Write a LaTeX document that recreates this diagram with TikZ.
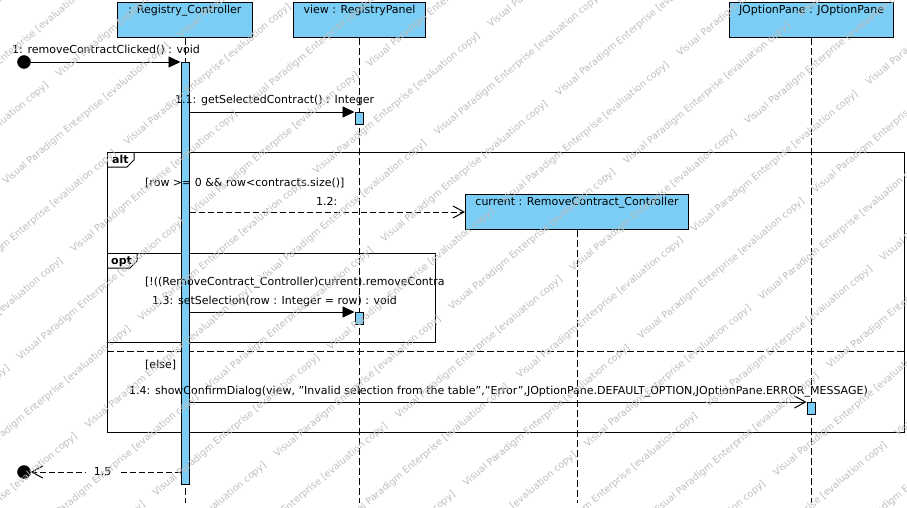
\documentclass[tikz,border=0pt]{standalone}
\usepackage{fontspec}
\setmainfont{DejaVu Sans}
\usetikzlibrary{arrows.meta}

\definecolor{objfill}{RGB}{122,206,245}
\definecolor{wmgray}{RGB}{190,190,190}

\tikzset{
  obj/.style={draw=black, fill=objfill, line width=1pt, inner sep=0pt},
  bar/.style={obj, minimum width=8pt},
  objname/.style={font=\fontsize{11}{13}\selectfont, inner sep=0pt, anchor=north, yshift=-3pt},
  lifeline/.style={line width=0.9pt, dash pattern=on 7pt off 3pt},
  callmsg/.style={line width=0.9pt, -{Triangle[length=12pt,width=11pt]}},
  sendmsg/.style={line width=0.9pt, -{Straight Barb[length=11pt,width=12pt,line width=1pt]}},
  replymsg/.style={sendmsg, dash pattern=on 6pt off 3pt},
  msglbl/.style={font=\fontsize{11}{13}\selectfont, inner sep=0pt, anchor=base west},
  framebox/.style={draw=black, line width=1pt, inner sep=0pt, anchor=north west},
  framelbl/.style={font=\bfseries\fontsize{11}{13}\selectfont, inner sep=0pt, anchor=base west},
  endpoint/.style={circle, fill=black, draw=black, minimum size=13pt, inner sep=0pt},
  wm/.style={font=\fontsize{9.5}{10}\selectfont, text=wmgray, inner sep=0pt, anchor=base west, rotate=40},
}

\begin{document}
\begin{tikzpicture}[x=1pt,y=-1pt]
\fill[white] (0,0) rectangle (907,508);
\useasboundingbox (0,0) rectangle (907,508);

% combined fragments
\node[framebox, minimum width=797pt, minimum height=280pt] (altf) at (107,152) {};
\draw[line width=1pt] (107,167) -- (127,167) -- (134,160) -- (134,152);
\node[framelbl] (altl) at (112,163) {alt};
\draw[line width=0.9pt, dash pattern=on 7pt off 3pt] (107,351) -- (904,351);

\node[framebox, minimum width=328pt, minimum height=89pt] (optf) at (107,253) {};
\draw[line width=1pt] (107,268) -- (130,268) -- (137,261) -- (137,253);
\node[framelbl] (optl) at (111,264) {opt};

% lifeline heads
\node[obj, anchor=north west, minimum width=135pt, minimum height=35pt,
      label={[objname]north:{: Registry\_Controller}}] (rc) at (117,2) {};
\node[obj, anchor=north west, minimum width=132pt, minimum height=35pt,
      label={[objname]north:{view : RegistryPanel}}] (view) at (293,2) {};
\node[obj, anchor=north west, minimum width=164pt, minimum height=35pt,
      label={[objname]north:{JOptionPane : JOptionPane}}] (jop) at (729,2) {};
\node[obj, anchor=north west, minimum width=223pt, minimum height=35pt,
      label={[objname]north:{current : RemoveContract\_Controller}}] (cur) at (465,194) {};

% lifelines
\coordinate (rcend) at (185,503);
\coordinate (viewend) at (359,503);
\coordinate (jopend) at (811,503);
\coordinate (curend) at (577,503);
\draw[lifeline] (rc.south -| rcend) -- (rcend);
\draw[lifeline] (view.south -| viewend) -- (viewend);
\draw[lifeline] (jop.south -| jopend) -- (jopend);
\draw[lifeline] (cur.south -| curend) -- (curend);

% activations
\node[bar, minimum height=422pt, anchor=north] (rcact) at (185,62) {};
\node[bar, minimum height=12pt, anchor=north] (vact1) at (359,112) {};
\node[bar, minimum height=12pt, anchor=north] (vact2) at (359,312) {};
\node[bar, minimum height=12pt, anchor=north] (jact) at (811,402) {};

% found / lost message ends
\node[endpoint] (start) at (24,62) {};
\node[endpoint] (finish) at (24,472) {};

% messages
\draw[callmsg] (start) -- (rcact.north west);
\node[msglbl] (m1) at (12,54) {1: removeContractClicked() : void};

\draw[callmsg] (rcact.east |- vact1.north) -- (vact1.north west);
\node[msglbl] (m11) at (175,104) {1.1: getSelectedContract() : Integer};

\node[msglbl] (g1) at (145,186) {[row >= 0 \&\& row<contracts.size()]};
\draw[replymsg] (rcact.east |- cur.west) -- (cur.west);
\node[msglbl] (m12) at (316,205) {1.2:};

\node[msglbl] (g2) at (145,285) {[!((RemoveContract\_Controller)current).removeContra};
\draw[callmsg] (rcact.east |- vact2.north) -- (vact2.north west);
\node[msglbl] (m13) at (152,304) {1.3: setSelection(row : Integer = row) : void};

\node[msglbl] (g3) at (145,368) {[else]};
\draw[sendmsg] (rcact.east |- jact.north) -- (jact.north west);
\node[msglbl] (m14) at (129,394) {1.4: showConfirmDialog(view, "Invalid selection from the table","Error",JOptionPane.DEFAULT\_OPTION,JOptionPane.ERROR\_MESSAGE)};

\draw[replymsg] (rcact.west |- finish) -- (finish)
  node[pos=0.52, fill=white, inner xsep=8pt, inner ysep=1pt, font=\fontsize{11}{13}\selectfont] (m15) {1.5};

% evaluation watermark, tiled along parallel diagonals
\begin{scope}
\clip (0,0) rectangle (907,508);
\foreach \k in {-12,...,10} {
  \pgfmathsetmacro{\ph}{mod(78.5+61*\k+228*20,228)}
  \foreach \j in {-2,...,4} {
    \pgfmathsetmacro{\s}{\ph+228*\j}
    \node[wm] (wm\k-\j) at ({217+74.5*\k+0.766*\s},{508-0.643*\s})
      {Visual Paradigm Enterprise [evaluation copy]};
  }
}
\end{scope}
\end{tikzpicture}
\end{document}
